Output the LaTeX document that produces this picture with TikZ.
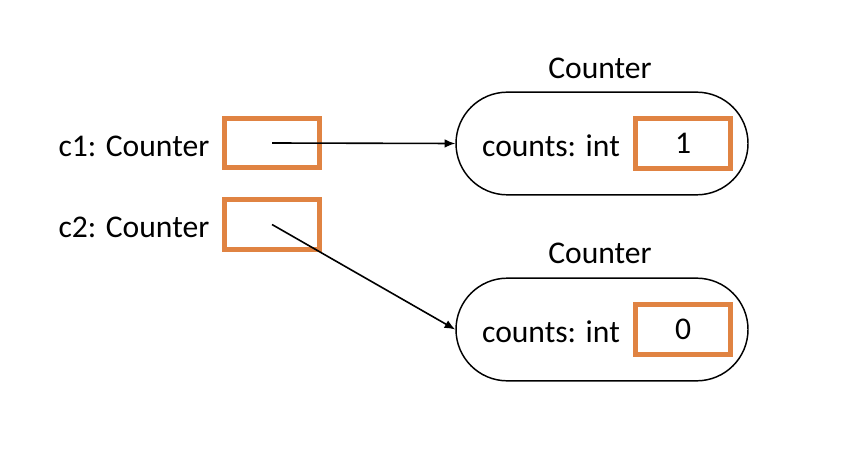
\documentclass[tikz,border=0pt]{standalone}
\usepackage{fontspec}
\setmainfont{Carlito}
\usepackage{tikz}
\usetikzlibrary{arrows.meta, positioning}
\definecolor{refbox}{RGB}{224, 131, 66}

\tikzset{
  varbox/.style={draw=refbox, line width=3.75pt, minimum width=71pt, minimum height=37pt, inner sep=0pt},
  objbox/.style={draw, line width=1.1pt, rounded corners=38.5pt, minimum width=219pt, minimum height=77pt},
  reflink/.style={-{Latex[length=8pt,width=6.5pt]}, line width=1.2pt}
}

\begin{document}
\begin{tikzpicture}[x=0.75pt, y=-0.75pt, font=\fontsize{23.7}{28}\selectfont]
  \useasboundingbox (0,0) rectangle (855,459);
  % references on the left
  \node[varbox] (c1box) at (272,143) {};
  \node[varbox] (c2box) at (272,224.5) {};
  \node[anchor=east] (c1lbl) at (214,146) {c1: Counter};
  \node[anchor=east] (c2lbl) at (214,227) {c2: Counter};
  % objects
  \node[objbox] (obj1) at (602,143.5) {};
  \node[objbox] (obj2) at (602,329.5) {};
  \node (obj1name) at (600,68) {Counter};
  \node (obj2name) at (600,253) {Counter};
  \node (obj1field) at (551,146) {counts: int};
  \node (obj2field) at (551,332) {counts: int};
  \node[varbox] (obj1val) at (683,143.5) {1};
  \node[varbox] (obj2val) at (683,329.5) {0};
  % pointers
  \draw[reflink] (c1box.center) -- (obj1.west);
  \draw[reflink] (c2box.center) -- (obj2.west);
\end{tikzpicture}
\end{document}
